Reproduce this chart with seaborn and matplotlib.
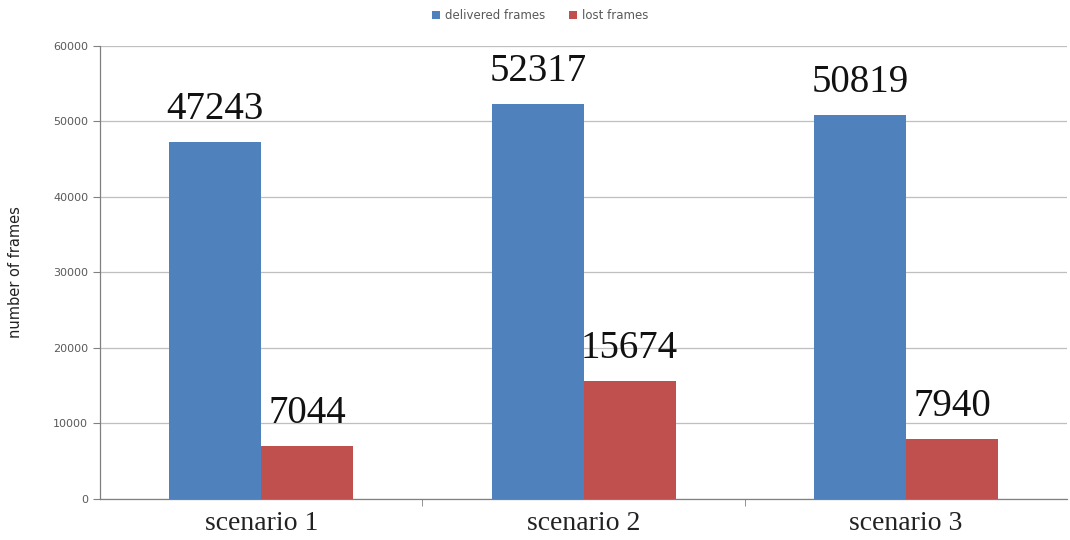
import matplotlib
matplotlib.use("Agg")
import matplotlib.pyplot as plt
import seaborn as sns
import pandas as pd
import numpy as np

categories = ["scenario 1", "scenario 2", "scenario 3"]
delivered = [47243, 52317, 50819]
lost = [7044, 15674, 7940]
series_names = ["delivered frames", "lost frames"]
yticks = [0, 10000, 20000, 30000, 40000, 50000, 60000]

df = pd.DataFrame({
    "scenario": categories * 2,
    "series": [series_names[0]] * 3 + [series_names[1]] * 3,
    "value": delivered + lost,
})

sns.set_style("white")
fig = plt.figure(figsize=(10.7, 5.4), dpi=100)
ax = fig.add_axes([0.0935, 0.076, 0.904, 0.839])

palette = {series_names[0]: "#4F81BD", series_names[1]: "#C0504D"}
sns.barplot(data=df, x="scenario", y="value", hue="series", palette=palette,
            width=0.57, gap=0, saturation=1, ax=ax, legend=True, zorder=3,
            linewidth=0, edgecolor="none")

ax.set_ylim(0, 60000)
ax.set_xlim(-0.5, 2.5)
ax.set_yticks(yticks)
ax.set_yticklabels([str(v) for v in yticks], fontsize=8, color="#595959")
ax.yaxis.grid(True, color="#bfbfbf", linewidth=0.9, zorder=0)
ax.set_axisbelow(True)
ax.tick_params(axis="y", length=5, color="#808080", direction="out", left=True)
ax.set_xlabel("")
ax.set_ylabel("number of frames", fontsize=10.5, color="#222222", labelpad=22)
ax.set_xticks([0, 1, 2])
ax.set_xticklabels(categories, fontsize=20, family="Liberation Serif", color="#222222")
ax.tick_params(axis="x", length=0, pad=9)
ax.set_xticks([0.5, 1.5], minor=True)
ax.tick_params(axis="x", which="minor", length=5, color="#808080", direction="out", bottom=True)
for s in ["top", "right"]:
    ax.spines[s].set_visible(False)
for s in ["left", "bottom"]:
    ax.spines[s].set_color("#808080")
    ax.spines[s].set_linewidth(0.9)

for cont in ax.containers:
    ax.bar_label(cont, labels=[str(int(v)) for v in cont.datavalues],
                 fontsize=28, family="Liberation Serif", padding=10, color="#111111")

leg = ax.legend(loc="upper center", bbox_to_anchor=(0.455, 1.105), ncol=2, frameon=False,
                fontsize=8.5, handlelength=0.7, handleheight=0.7, handletextpad=0.4,
                columnspacing=2.0)
for t in leg.get_texts():
    t.set_color("#595959")

fig.savefig("out.png", dpi=100)
